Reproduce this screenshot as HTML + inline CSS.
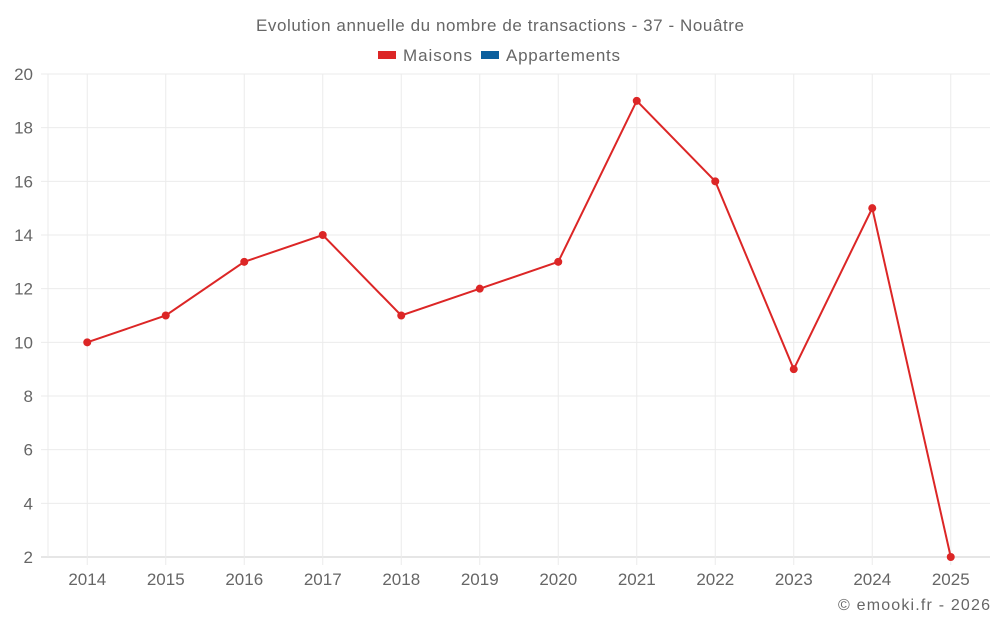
<!DOCTYPE html>
<html><head><meta charset="utf-8"><style>
html,body{margin:0;padding:0;background:#fff;}
svg text{font-family:"Liberation Sans",sans-serif;fill:#666;}
</style></head><body>
<svg width="1000" height="625" viewBox="0 0 1000 625" xmlns="http://www.w3.org/2000/svg">
<text x="500" y="31" text-anchor="middle" font-size="17" textLength="488" lengthAdjust="spacing">Evolution annuelle du nombre de transactions - 37 - Nouâtre</text>
<g>
<g><rect x="378" y="51" width="18" height="8" fill="#dc2626"/><text x="403" y="61" font-size="17" textLength="69" lengthAdjust="spacing">Maisons</text></g>
<g><rect x="481" y="51" width="18" height="8" fill="#0b5f9e"/><text x="506" y="61" font-size="17" textLength="114" lengthAdjust="spacing">Appartements</text></g>
</g>
<g id="grid"></g>
<g id="axes"></g>
<g id="series"></g>
<text x="990" y="610" text-anchor="end" font-size="16" textLength="152" lengthAdjust="spacing">© emooki.fr - 2026</text>
</svg>
<script>
const categories=["2014","2015","2016","2017","2018","2019","2020","2021","2022","2023","2024","2025"];
const maisons=[10,11,13,14,11,12,13,19,16,9,15,2];
const yTicks=[2,4,6,8,10,12,14,16,18,20];
const NS="http://www.w3.org/2000/svg";
const L=48,R=990,T=74,B=557,yMin=2,yMax=20;
const step=(R-L)/categories.length;
const xs=i=>L+step*(i+0.5);
const ys=v=>B-(v-yMin)/(yMax-yMin)*(B-T);
function mk(tag,a,p){const e=document.createElementNS(NS,tag);for(const k in a)e.setAttribute(k,a[k]);p.appendChild(e);return e;}
const grid=document.getElementById('grid'),axes=document.getElementById('axes'),ser=document.getElementById('series');
yTicks.forEach(t=>{const y=ys(t);
const l=mk('line',{x1:41,x2:R,y1:y,y2:y,stroke:t===yMin?'#ccc':'#ebebeb','stroke-width':1},grid);


const tx=mk('text',{x:33,y:y+6,'text-anchor':'end','font-size':17},axes);tx.textContent=t;


});
mk('line',{x1:L,x2:L,y1:T,y2:B,stroke:'#ebebeb'},grid);
categories.forEach((c,i)=>{const x=xs(i);
const l=mk('line',{x1:x,x2:x,y1:T,y2:B+8,stroke:'#ebebeb'},grid);


const tx=mk('text',{x:x,y:585,'text-anchor':'middle','font-size':17},axes);tx.textContent=c;


});
const pts=maisons.map((v,i)=>xs(i)+','+ys(v)).join(' ');
const pl=mk('polyline',{points:pts,fill:'none',stroke:'#dc2626','stroke-width':2},ser);


maisons.forEach((v,i)=>{const c=mk('circle',{cx:xs(i),cy:ys(v),r:4,fill:'#dc2626'},ser);


});
</script>
</body></html>
